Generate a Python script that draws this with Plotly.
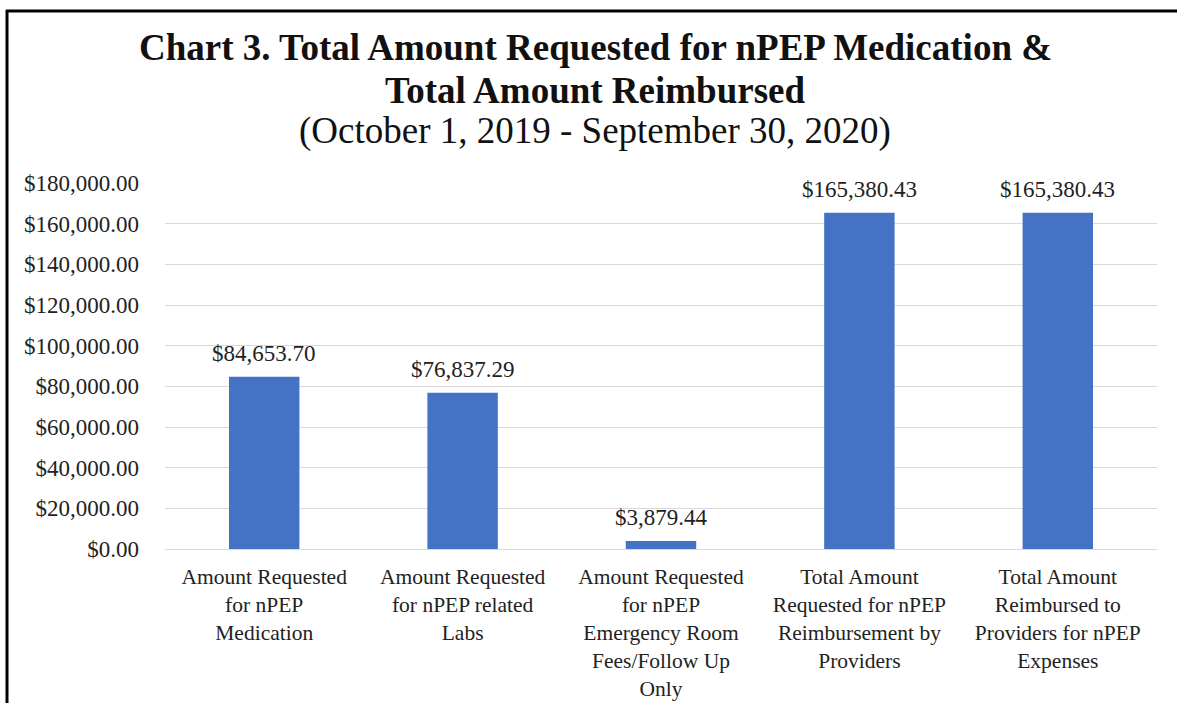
import plotly.graph_objects as go

categories = [
    "Amount Requested<br>for nPEP<br>Medication",
    "Amount Requested<br>for nPEP related<br>Labs",
    "Amount Requested<br>for nPEP<br>Emergency Room<br>Fees/Follow Up<br>Only",
    "Total Amount<br>Requested for nPEP<br>Reimbursement by<br>Providers",
    "Total Amount<br>Reimbursed to<br>Providers for nPEP<br>Expenses",
]
values = [84653.70, 76837.29, 3879.44, 165380.43, 165380.43]
tick_vals = [0, 20000, 40000, 60000, 80000, 100000, 120000, 140000, 160000, 180000]
tick_text = ["$0.00", "$20,000.00", "$40,000.00", "$60,000.00", "$80,000.00",
             "$100,000.00", "$120,000.00", "$140,000.00", "$160,000.00", "$180,000.00"]

FONT = "Liberation Serif, Times New Roman, serif"
W, H = 1177, 703
ml, mr, mt, mb = 165, 20, 183, 154

fig = go.Figure()
fig.add_trace(go.Bar(
    x=categories, y=values,
    marker=dict(color="#4472C4", line=dict(width=0)),
    width=0.355,
    hoverinfo="skip",
))

for c, v in zip(categories, values):
    fig.add_annotation(
        x=c, y=v, xref="x", yref="y",
        text="${:,.2f}".format(v),
        showarrow=False, yanchor="bottom", yshift=9,
        font=dict(family=FONT, size=23, color="#222222"),
    )

pw = W - ml - mr
ph = H - mt - mb

def px_to_paper_x(px):
    return (px - ml) / pw

def px_to_paper_y(py):
    return (H - mb - py) / ph

title_lines = [
    ("<b>Chart 3. Total Amount Requested for nPEP Medication &</b>", 48, 37),
    ("<b>Total Amount Reimbursed</b>", 90, 37),
    ("(October 1, 2019 - September 30, 2020)", 131, 37),
]
for txt, ypx, sz in title_lines:
    fig.add_annotation(
        x=px_to_paper_x(595), y=px_to_paper_y(ypx), xref="paper", yref="paper",
        text=txt, showarrow=False, xanchor="center", yanchor="middle",
        font=dict(family=FONT, size=sz, color="#111111"),
    )

# frame lines (left and top) of the original screenshot
fig.add_shape(type="line", xref="paper", yref="paper",
              x0=px_to_paper_x(7), x1=px_to_paper_x(7),
              y0=px_to_paper_y(10), y1=px_to_paper_y(720),
              line=dict(color="black", width=3))
fig.add_shape(type="line", xref="paper", yref="paper",
              x0=px_to_paper_x(6), x1=px_to_paper_x(1177),
              y0=px_to_paper_y(11), y1=px_to_paper_y(11),
              line=dict(color="black", width=3))

fig.update_layout(
    width=W, height=H,
    margin=dict(l=ml, r=mr, t=mt, b=mb, autoexpand=False),
    paper_bgcolor="white", plot_bgcolor="white",
    showlegend=False,
    font=dict(family=FONT, size=21.5, color="#222222"),
)
fig.update_xaxes(
    showline=True, linecolor="#d9d9d9", linewidth=1,
    ticks="", tickfont=dict(family=FONT, size=21.5, color="#222222"),
    tickangle=0, ticklabelstandoff=8,
)
fig.update_yaxes(
    range=[0, 180000], tickvals=tick_vals, ticktext=tick_text,
    showgrid=True, gridcolor="#d9d9d9", gridwidth=1,
    zeroline=False, showline=False, ticks="",
    tickfont=dict(family=FONT, size=23, color="#222222"),
    ticklabelstandoff=25,
)

fig.write_html(
    "out.html",
    config={"displayModeBar": False},
    post_script="document.body.style.margin='0';document.body.style.overflow='hidden';",
)
